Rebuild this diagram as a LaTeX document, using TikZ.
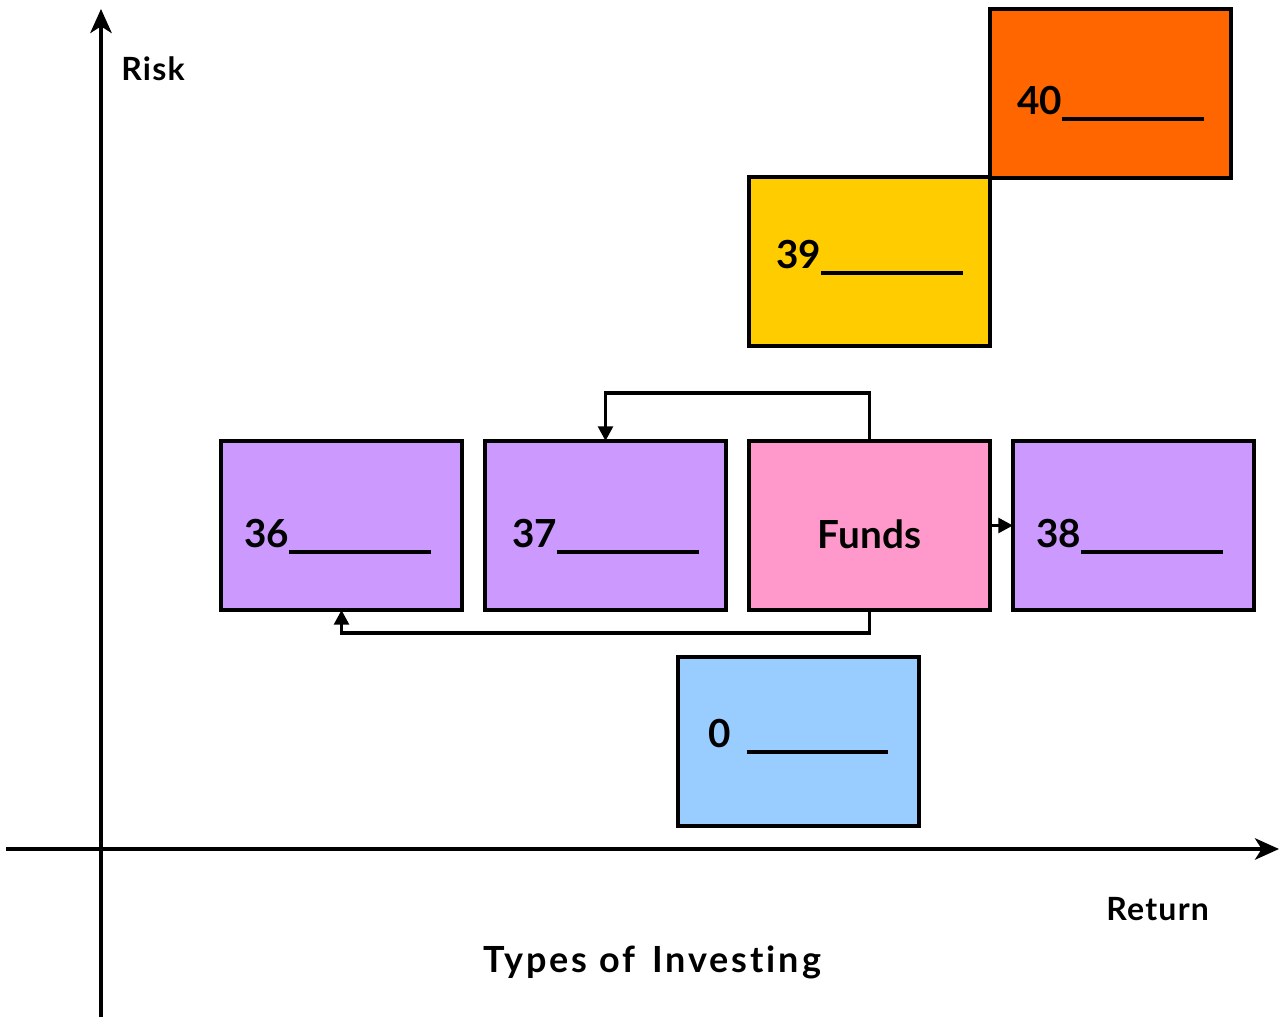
\documentclass[tikz,border=0pt]{standalone}
\usepackage{fontspec}
\setmainfont{Lato}[Ligatures=NoCommon]
\usetikzlibrary{arrows.meta}
\definecolor{orangebox}{HTML}{FF6600}
\definecolor{yellowbox}{HTML}{FFCC00}
\definecolor{purplebox}{HTML}{CC99FF}
\definecolor{pinkbox}{HTML}{FF99CC}
\definecolor{bluebox}{HTML}{99CCFF}
\newcommand{\blank}{\rule[-4.9pt]{106pt}{3pt}}
\begin{document}
\begin{tikzpicture}[x=0.75pt,y=-0.75pt,
  box/.style={draw=black,line width=3pt,minimum width=180.75pt,minimum height=126.75pt,inner sep=0pt,outer sep=0pt,anchor=north west},
  lbl/.style={font=\fontsize{29pt}{32pt}\selectfont\bfseries,inner sep=0pt,anchor=base},
  axislbl/.style={font=\fontsize{24pt}{28pt}\selectfont\bfseries\addfontfeatures{LetterSpace=4},inner sep=0pt,anchor=base west},
  axis/.style={line width=3pt,-{Stealth[length=18pt,width=16pt,inset=5pt]}},
  link/.style={line width=2.6pt,-{Triangle[length=11pt,width=11pt]}}]
\useasboundingbox (0,0) rectangle (1287,1019);

% axes
\coordinate (yb) at (101,1017);
\coordinate (yt) at (101,9);
\coordinate (xl) at (6,849);
\coordinate (xr) at (1279,849);
\draw[axis] (yb) -- (yt);
\draw[axis] (xl) -- (xr);

% boxes
\node[box,fill=orangebox] (b40) at (990,9) {};
\node[box,fill=yellowbox] (b39) at (749,177) {};
\node[box,fill=purplebox] (b36) at (221,441) {};
\node[box,fill=purplebox] (b37) at (485,441) {};
\node[box,fill=pinkbox] (bf) at (749,441) {};
\node[box,fill=purplebox] (b38) at (1013,441) {};
\node[box,fill=bluebox] (b0) at (678,657) {};

% labels
\node[lbl] (l40) at ([yshift=-16pt]b40.center) {40\blank};
\node[lbl] (l39) at ([yshift=-5pt]b39.center) {39\blank};
\node[lbl] (l36) at ([xshift=-3pt,yshift=-16.5pt]b36.center) {36\blank};
\node[lbl] (l37) at ([yshift=-16.5pt]b37.center) {37\blank};
\node[lbl] (lf) at ([yshift=-17pt]bf.center) {Funds};
\node[lbl] (l38) at ([xshift=-3pt,yshift=-16.5pt]b38.center) {38\blank};
\node[lbl] (l0) at ([yshift=-4.5pt]b0.center) {0\hspace{12pt}\blank};

% connectors
\draw[link] (bf.north) |- ++(0,-48) -| (b37.north);
\draw[link] (bf.south) |- ++(0,23) -| (b36.south);
\draw[link] (bf.east) -- (b38.west);

% axis captions
\node[axislbl] (risk) at (121,81) {Risk};
\node[axislbl] (ret) at (1106,920) {Return};
\node[lbl,font=\fontsize{27pt}{30pt}\selectfont\bfseries\addfontfeatures{LetterSpace=8}] (title) at (652,972) {Types of\hspace{4pt} Investing};
\end{tikzpicture}
\end{document}
